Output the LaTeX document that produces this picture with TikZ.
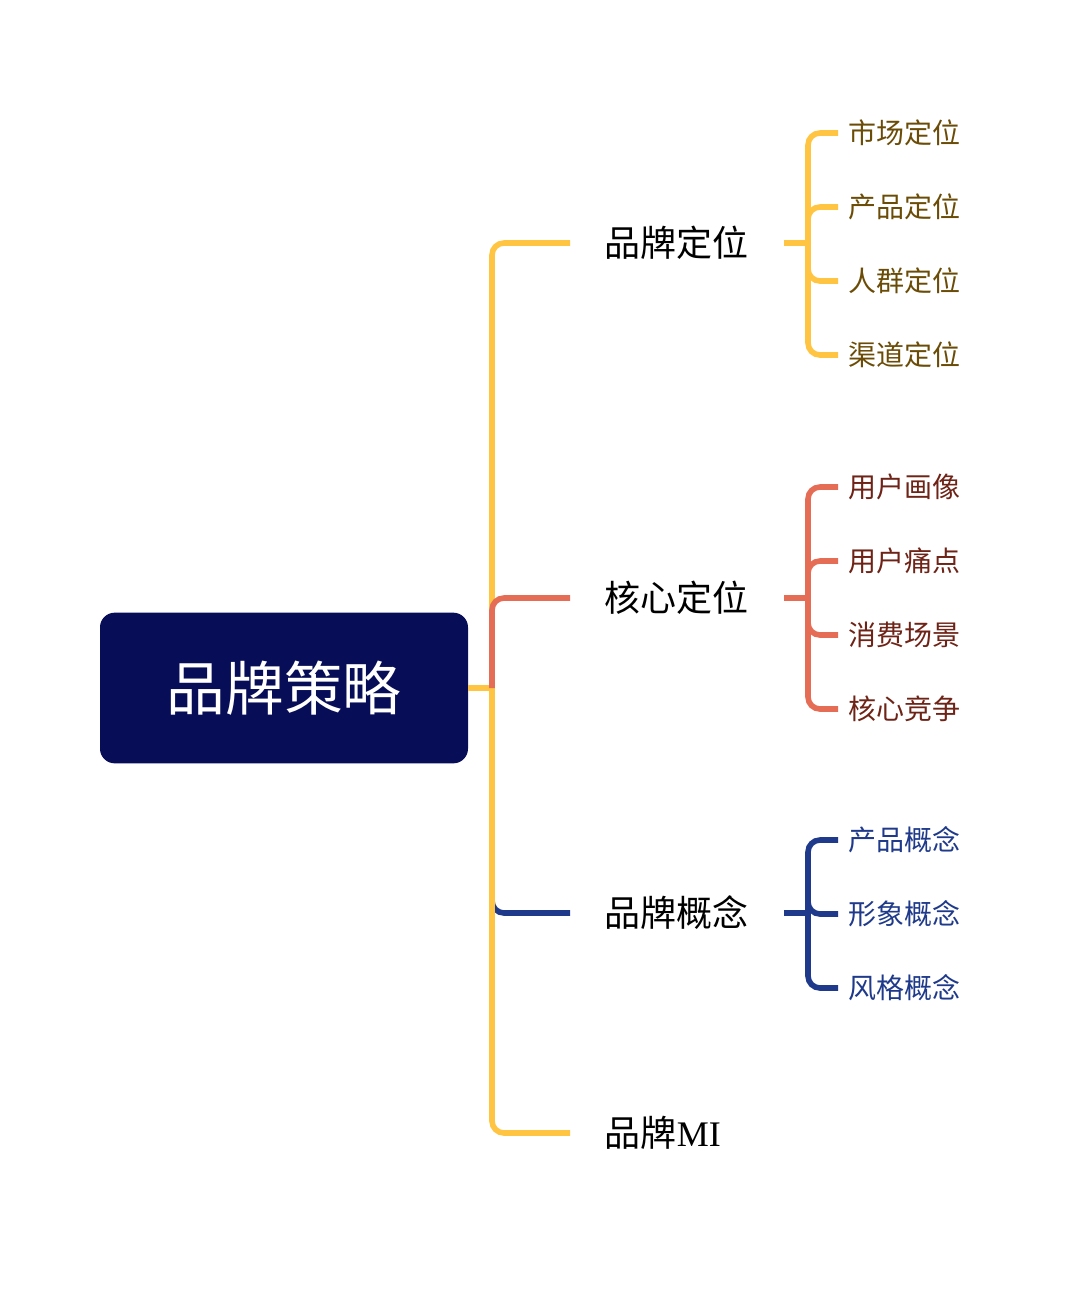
\documentclass[tikz,border=0pt]{standalone}
\usepackage{fontspec}
\setmainfont{Liberation Serif}
\newfontfamily\cjk{Noto Sans CJK SC}
\usetikzlibrary{positioning}
\definecolor{rootblue}{HTML}{070D57}
\definecolor{branchyellow}{HTML}{FFC542}
\definecolor{branchred}{HTML}{E56C55}
\definecolor{branchblue}{HTML}{1F3A8A}
\definecolor{leafbrown}{HTML}{6B4C06}
\definecolor{leafred}{HTML}{6E2317}
\tikzset{root/.style={fill=rootblue, text=white, rounded corners=11pt, minimum width=276pt, minimum height=113pt, font=\cjk\fontsize{44pt}{44pt}\selectfont}}
\tikzset{topic/.style={anchor=west, inner xsep=26pt, inner ysep=0pt, text=black, font=\cjk\fontsize{27pt}{27pt}\selectfont}}
\tikzset{subtopic/.style={anchor=west, inner xsep=7.5pt, inner ysep=0pt, font=\cjk\fontsize{21pt}{21pt}\selectfont}}
\tikzset{branch/.style={line width=4.2pt, rounded corners=9pt}}

\begin{document}
\begin{tikzpicture}[x=0.75pt, y=-0.75pt]
    \useasboundingbox (0,0) rectangle (1072,1293);
    \node[root] (strategy) at (284,688) {品牌策略};
    \node[topic] (position) at (570,243) {品牌定位};
    \node[topic] (core) at (570,598) {核心定位};
    \node[topic] (concept) at (570,913) {品牌概念};
    \node[topic] (mi) at (570,1133) {品牌{\rmfamily MI}};
    \coordinate (trunk) at (492,688);
    \coordinate (concept-start) at (492,890);
    \coordinate (position-fork) at (808,243);
    \coordinate (core-fork) at (808,598);
    \coordinate (concept-fork) at (808,913);
    % main branches
    \draw[branch, branchblue] (concept-start) |- (concept.west);
    \draw[branch, branchyellow] (strategy.east) -- (trunk);
    \draw[branch, branchyellow] (trunk) |- (position.west);
    \draw[branch, branchyellow] (trunk) |- (mi.west);
    \draw[branch, branchred] (trunk) |- (core.west);
    % leaves
    \draw[branch, branchyellow] (position.east) -- (position-fork);
    \foreach \leaf/\y/\txt in {market/133/市场定位, product/207/产品定位, crowd/281/人群定位, channel/355/渠道定位} {
        \node[subtopic, text=leafbrown] (\leaf) at (838,\y) {\txt};
        \draw[branch, branchyellow] (position-fork) |- (\leaf.west);
    }
    \draw[branch, branchred] (core.east) -- (core-fork);
    \foreach \leaf/\y/\txt in {portrait/487/用户画像, pain/561/用户痛点, scene/635/消费场景, rival/709/核心竞争} {
        \node[subtopic, text=leafred] (\leaf) at (838,\y) {\txt};
        \draw[branch, branchred] (core-fork) |- (\leaf.west);
    }
    \draw[branch, branchblue] (concept.east) -- (concept-fork);
    \foreach \leaf/\y/\txt in {goods/840/产品概念, image/914/形象概念, style/988/风格概念} {
        \node[subtopic, text=branchblue] (\leaf) at (838,\y) {\txt};
        \draw[branch, branchblue] (concept-fork) |- (\leaf.west);
    }
\end{tikzpicture}
\end{document}
